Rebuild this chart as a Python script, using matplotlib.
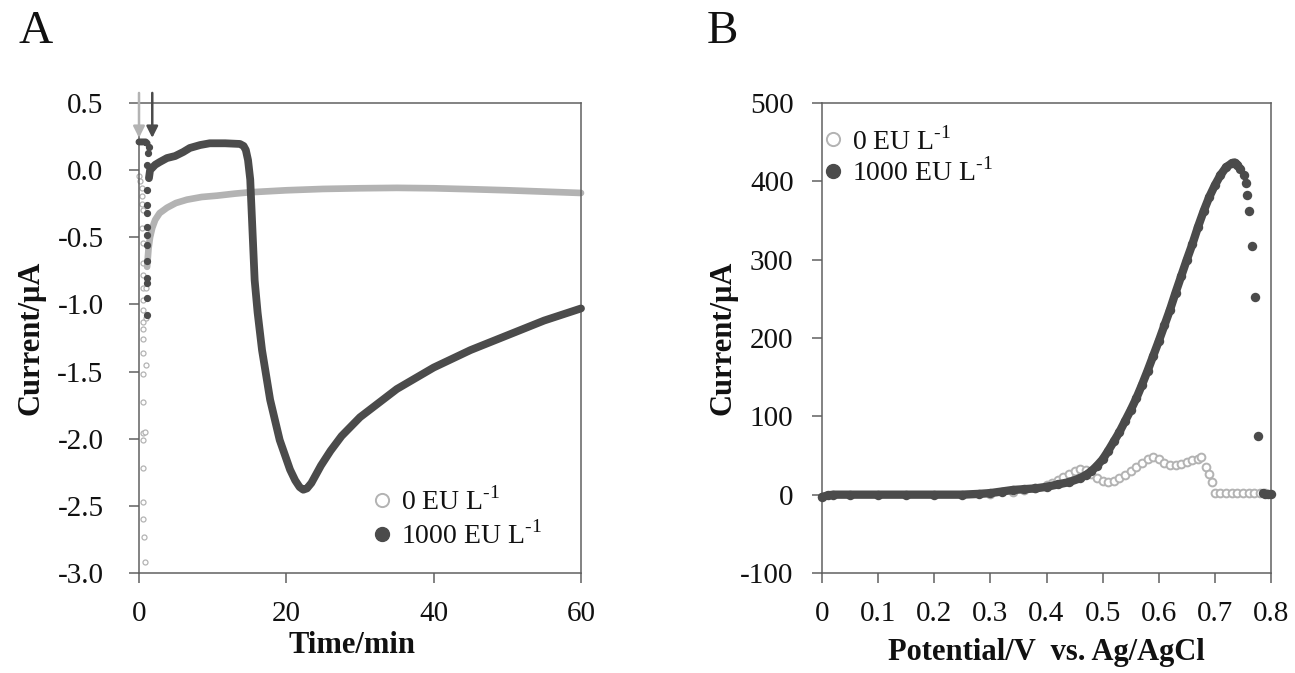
import matplotlib
matplotlib.use('Agg')
import matplotlib.pyplot as plt
from matplotlib.lines import Line2D
from matplotlib.ticker import FixedLocator, FuncFormatter

plt.rcParams['font.family'] = ['Liberation Serif', 'DejaVu Serif']
plt.rcParams['mathtext.fontset'] = 'custom'
plt.rcParams['mathtext.rm'] = 'Liberation Serif'
plt.rcParams['axes.unicode_minus'] = False

# ---- panel A: amperometric response (time in min, current in uA) ----
# 0 EU/L: fast spike right after injection (sparse points)
a_gray_dip_t = [0.0, 0.2, 0.4, 0.45, 0.45, 0.5, 0.45, 0.5, 0.5, 0.55, 0.5, 0.55, 0.6,
                0.55, 0.6, 0.5, 0.6, 0.6, 0.55, 0.6, 0.6, 0.55, 0.6, 0.6, 0.7, 0.8,
                0.85, 0.9, 0.95, 1.0]
a_gray_dip_i = [-0.04, -0.08, -0.13, -0.19, -0.25, -0.30, -0.43, -0.54, -0.69, -0.78,
                -0.88, -0.97, -1.04, -1.13, -1.18, -1.26, -1.36, -1.52, -1.73, -1.96,
                -2.01, -2.22, -2.47, -2.60, -2.73, -2.92, -1.95, -1.45, -1.10, -0.88]
# 0 EU/L: slow recovery (dense sampling)
a_gray_t = [1.1, 1.3, 1.5, 1.8, 2.2, 2.8, 3.8, 5.0, 6.5, 8.5, 10.6, 13.0, 15.0,
            20.0, 25.0, 30.0, 35.0, 40.0, 45.0, 50.0, 55.0, 60.0]
a_gray_i = [-0.72, -0.58, -0.50, -0.43, -0.37, -0.32, -0.28, -0.245, -0.22, -0.20,
            -0.19, -0.175, -0.165, -0.15, -0.14, -0.135, -0.132, -0.135, -0.142,
            -0.15, -0.16, -0.17]

# 1000 EU/L: baseline before injection
a_dark_pre_t = [0.0, 0.3, 0.6, 0.9, 1.1]
a_dark_pre_i = [0.21, 0.21, 0.21, 0.21, 0.20]
# 1000 EU/L: spike after injection (sparse points)
a_dark_dip_t = [1.3, 1.2, 1.15, 1.15, 1.15, 1.15, 1.15, 1.15, 1.15, 1.15, 1.15,
                1.15, 1.15, 1.15]
a_dark_dip_i = [0.17, 0.13, 0.04, -0.15, -0.26, -0.32, -0.42, -0.48, -0.56, -0.68,
                -0.80, -0.84, -0.95, -1.08]
# 1000 EU/L: main response (dense sampling)
a_dark_t = [1.35, 1.5, 2.2, 2.8, 3.8, 4.9, 6.0, 6.9, 8.3, 9.6, 11.7, 13.7, 14.2,
            14.5, 14.8, 15.1, 15.3, 15.5, 15.7, 16.1, 16.7, 17.8, 19.1, 20.5, 21.2,
            21.8, 22.3, 22.8, 23.4, 24.0, 24.7, 26.0, 27.5, 30.0, 35.0, 40.0, 45.0,
            50.0, 55.0, 60.0]
a_dark_i = [-0.06, 0.0, 0.04, 0.06, 0.09, 0.105, 0.135, 0.165, 0.187, 0.20, 0.20,
            0.195, 0.18, 0.15, 0.075, -0.07, -0.32, -0.57, -0.82, -1.06, -1.34,
            -1.71, -2.01, -2.23, -2.31, -2.36, -2.38, -2.37, -2.33, -2.27, -2.20,
            -2.09, -1.98, -1.84, -1.63, -1.47, -1.34, -1.23, -1.12, -1.03]
inject_t = [0.0, 1.8]

# ---- panel B: oxidation scan (potential in V, current in uA) ----
b_gray_v = [0.30, 0.34, 0.36, 0.38, 0.40, 0.41, 0.42, 0.43, 0.44, 0.45, 0.46, 0.47,
            0.48, 0.49, 0.50, 0.51, 0.52, 0.53, 0.54, 0.55, 0.56, 0.57, 0.58, 0.59,
            0.60, 0.61, 0.62, 0.63, 0.64, 0.65, 0.66, 0.67, 0.676, 0.684, 0.69,
            0.695, 0.70, 0.71, 0.72, 0.73, 0.74, 0.75, 0.76, 0.77, 0.78, 0.79]
b_gray_i = [1, 4, 6, 9, 12, 15, 19, 23, 27, 30, 33, 31, 26, 21, 17, 16, 18, 21, 25,
            30, 35, 40, 45, 48, 45, 40, 38, 38, 39, 42, 44, 46, 48, 35, 27, 16, 2,
            2, 2, 2, 2, 2, 2, 2, 2, 2]

b_dark_v = [0.0, 0.01, 0.02, 0.05, 0.10, 0.15, 0.20, 0.25, 0.28, 0.30, 0.32, 0.34,
            0.36, 0.38, 0.40, 0.42, 0.44, 0.46, 0.47, 0.48, 0.49, 0.50, 0.51, 0.52,
            0.53, 0.54, 0.55, 0.56, 0.57, 0.58, 0.59, 0.60, 0.61, 0.62, 0.63, 0.64,
            0.65, 0.66, 0.67, 0.68, 0.69, 0.70, 0.71, 0.72, 0.73, 0.735, 0.74, 0.745]
b_dark_i = [-3, -1, 0, 0, 0, 0, 0, 0, 1, 2, 4, 6, 7, 8, 10, 13, 16, 21, 25, 30, 37,
            45, 56, 68, 80, 94, 108, 123, 140, 158, 177, 196, 216, 236, 258, 279,
            300, 320, 342, 362, 380, 395, 408, 418, 423, 424, 421, 416]
# falling edge after the peak (sparse points)
b_dark_tail_v = [0.752, 0.755, 0.757, 0.761, 0.766, 0.771, 0.777, 0.785, 0.79,
                 0.795, 0.80]
b_dark_tail_i = [408, 398, 383, 362, 318, 252, 75, 2, 1, 1, 1]

DARK = '#4b4b4b'
LIGHT = '#b3b3b3'
AXIS = '#606060'
INK = '#111111'
SUP = r'$^{\text{-1}}$'

fig = plt.figure(figsize=(12.95, 6.73), dpi=100)
ax_a = fig.add_axes([139 / 1295, 100 / 673, 442 / 1295, 470 / 673])
ax_b = fig.add_axes([822 / 1295, 100 / 673, 449 / 1295, 470 / 673])

for ax in (ax_a, ax_b):
    for s in ax.spines.values():
        s.set_color(AXIS)
        s.set_linewidth(1.1)
    ax.tick_params(colors=AXIS, labelcolor=INK, labelsize=21, width=1.1, length=7.5)

# panel A
ax_a.plot(a_gray_dip_t, a_gray_dip_i, ls='none', marker='o', ms=3.6, mfc='white',
          mec=LIGHT, mew=0.9, clip_on=False, zorder=2)
ax_a.plot(a_gray_t, a_gray_i, color=LIGHT, lw=4.8, solid_capstyle='round',
          solid_joinstyle='round', clip_on=False, zorder=2)
ax_a.plot(a_dark_pre_t, a_dark_pre_i, color=DARK, lw=5.0, solid_capstyle='round',
          clip_on=False, zorder=3)
ax_a.plot(a_dark_dip_t, a_dark_dip_i, ls='none', marker='o', ms=4.2, mfc=DARK,
          mec=DARK, clip_on=False, zorder=3)
ax_a.plot(a_dark_t, a_dark_i, color=DARK, lw=5.6, solid_capstyle='round',
          solid_joinstyle='round', clip_on=False, zorder=3)

for t, c in zip(inject_t, [LIGHT, DARK]):
    ax_a.annotate('', xy=(t, 0.24), xytext=(t, 0.575), annotation_clip=False,
                  arrowprops=dict(arrowstyle='-|>', color=c, lw=1.8,
                                  mutation_scale=17, shrinkA=0, shrinkB=0))

ax_a.set_xlim(0, 60)
ax_a.set_ylim(-3.0, 0.5)
ax_a.xaxis.set_major_locator(FixedLocator([0, 20, 40, 60]))
ax_a.yaxis.set_major_locator(FixedLocator([-3.0, -2.5, -2.0, -1.5, -1.0, -0.5, 0.0, 0.5]))
ax_a.yaxis.set_major_formatter(FuncFormatter(lambda v, p: f'{v:.1f}'))
ax_a.tick_params(axis='y', pad=18)
ax_a.tick_params(axis='x', pad=13)
ax_a.set_xlabel('Time/min', fontsize=22, fontweight='bold', color=INK, va='center')
ax_a.xaxis.set_label_coords(0.482, -0.155)
ax_a.set_ylabel('Current/μA', fontsize=22, fontweight='bold', color=INK, va='center')
ax_a.yaxis.set_label_coords(-0.245, 0.5)

leg_a = [Line2D([], [], ls='none', marker='o', ms=9.5, mfc='white', mec=LIGHT, mew=1.4,
                label='0 EU L' + SUP),
         Line2D([], [], ls='none', marker='o', ms=10, mfc=DARK, mec=DARK,
                label='1000 EU L' + SUP)]
ax_a.legend(handles=leg_a, loc='upper left', bbox_to_anchor=(0.518, 0.183), frameon=False,
            fontsize=20, handlelength=1.0, handletextpad=0.2, labelspacing=0.2,
            borderpad=0, borderaxespad=0, labelcolor=INK)

# panel B
ax_b.plot(b_gray_v, b_gray_i, ls='none', marker='o', ms=5.6, mfc='white', mec=LIGHT,
          mew=1.4, clip_on=False, zorder=2)
ax_b.plot(b_dark_v, b_dark_i, color=DARK, lw=6.0, solid_capstyle='round',
          solid_joinstyle='round', marker='o', ms=6.8, mfc=DARK, mec=DARK, mew=0,
          clip_on=False, zorder=3)
ax_b.plot(b_dark_tail_v, b_dark_tail_i, ls='none', marker='o', ms=6.8, mfc=DARK,
          mec=DARK, mew=0, clip_on=False, zorder=3)

ax_b.set_xlim(0, 0.8)
ax_b.set_ylim(-100, 500)
ax_b.xaxis.set_major_locator(FixedLocator([0, 0.1, 0.2, 0.3, 0.4, 0.5, 0.6, 0.7, 0.8]))
ax_b.xaxis.set_major_formatter(FuncFormatter(lambda v, p: '0' if abs(v) < 1e-9 else f'{v:.1f}'))
ax_b.yaxis.set_major_locator(FixedLocator(list(range(-100, 501, 100))))
ax_b.tick_params(axis='y', pad=13)
ax_b.tick_params(axis='x', pad=13)
ax_b.set_xlabel('Potential/V  vs. Ag/AgCl', fontsize=22, fontweight='bold', color=INK,
                va='center')
ax_b.xaxis.set_label_coords(0.5, -0.17)
ax_b.set_ylabel('Current/μA', fontsize=22, fontweight='bold', color=INK, va='center')
ax_b.yaxis.set_label_coords(-0.22, 0.5)

leg_b = [Line2D([], [], ls='none', marker='o', ms=9.5, mfc='white', mec=LIGHT, mew=1.4,
                label='0 EU L' + SUP),
         Line2D([], [], ls='none', marker='o', ms=10, mfc=DARK, mec=DARK,
                label='1000 EU L' + SUP)]
ax_b.legend(handles=leg_b, loc='upper left', bbox_to_anchor=(-0.007, 0.95), frameon=False,
            fontsize=20, handlelength=1.0, handletextpad=0.2, labelspacing=0.1,
            borderpad=0, borderaxespad=0, labelcolor=INK)

fig.text(36 / 1295, 1 - 43 / 673, 'A', fontsize=34, ha='center', va='baseline', color=INK)
fig.text(722 / 1295, 1 - 43 / 673, 'B', fontsize=34, ha='center', va='baseline', color=INK)

fig.savefig('out.png', dpi=100, facecolor='white')
